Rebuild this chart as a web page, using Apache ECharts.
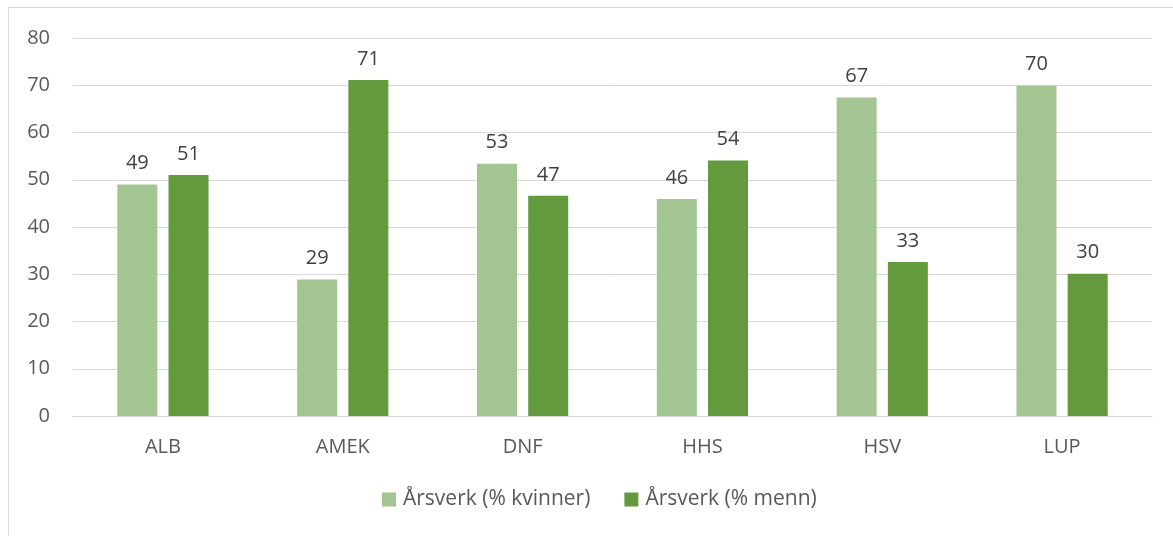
<!DOCTYPE html>
<html>
<head>
<meta charset="utf-8">
<script src="https://cdn.jsdelivr.net/npm/echarts@6/dist/echarts.min.js"></script>
<style>
  html, body { margin: 0; padding: 0; background: #fff; }
  .frame {
    position: absolute;
    left: 8px;
    top: 7px;
    width: 1170px;
    height: 535px;
    border: 1px solid #d9d9d9;
    box-sizing: border-box;
  }
  #chart {
    position: absolute;
    left: 0;
    top: 0;
    width: 1173px;
    height: 536px;
  }
</style>
</head>
<body>
<div class="frame"></div>
<div id="chart"></div>
<script>
const categories = ['ALB', 'AMEK', 'DNF', 'HHS', 'HSV', 'LUP']
const women = [49.0, 28.9, 53.4, 45.9, 67.4, 69.9]
const men = [51.0, 71.1, 46.6, 54.1, 32.6, 30.1]
const seriesNames = ['Årsverk (% kvinner)', 'Årsverk (% menn)']

const font = '"Open Sans", "Noto Sans", sans-serif'
const textColor = '#595959'

const $chart = echarts.init(document.getElementById('chart'))

const barLabel = {
  show: true,
  position: 'top',
  distance: 11,
  fontFamily: font,
  fontSize: 20,
  color: '#404040',
  formatter: p => Math.round(p.value)
}

$chart.setOption({
  animation: false,
  textStyle: { fontFamily: font },
  grid: {
    left: 73,
    right: 21,
    top: 38,
    bottom: 120
  },
  legend: {
    bottom: 21,
    left: 377,
    itemWidth: 14,
    itemHeight: 14,
    itemGap: 34,
    icon: 'rect',
    textStyle: {
      fontFamily: font,
      fontSize: 21,
      color: textColor,
      padding: [0, 0, 0, 2]
    },
    data: seriesNames
  },
  xAxis: {
    type: 'category',
    data: categories,
    axisLine: { lineStyle: { color: '#d9d9d9', width: 1 } },
    axisTick: { show: false },
    axisLabel: {
      margin: 21,
      fontSize: 20,
      color: textColor,
      fontFamily: font
    }
  },
  yAxis: {
    type: 'value',
    min: 0,
    max: 80,
    interval: 10,
    axisLine: { show: false },
    axisTick: { show: false },
    axisLabel: {
      margin: 23,
      fontSize: 20,
      color: textColor,
      fontFamily: font
    },
    splitLine: {
      lineStyle: { color: '#d9d9d9', width: 1 }
    }
  },
  series: [
    {
      name: seriesNames[0],
      type: 'bar',
      data: women,
      barWidth: 40,
      barGap: '28%',
      itemStyle: { color: '#a2c591' },
      label: barLabel
    },
    {
      name: seriesNames[1],
      type: 'bar',
      data: men,
      barWidth: 40,
      barGap: '28%',
      itemStyle: { color: '#629a3d' },
      label: barLabel
    }
  ]
})
</script>
</body>
</html>
